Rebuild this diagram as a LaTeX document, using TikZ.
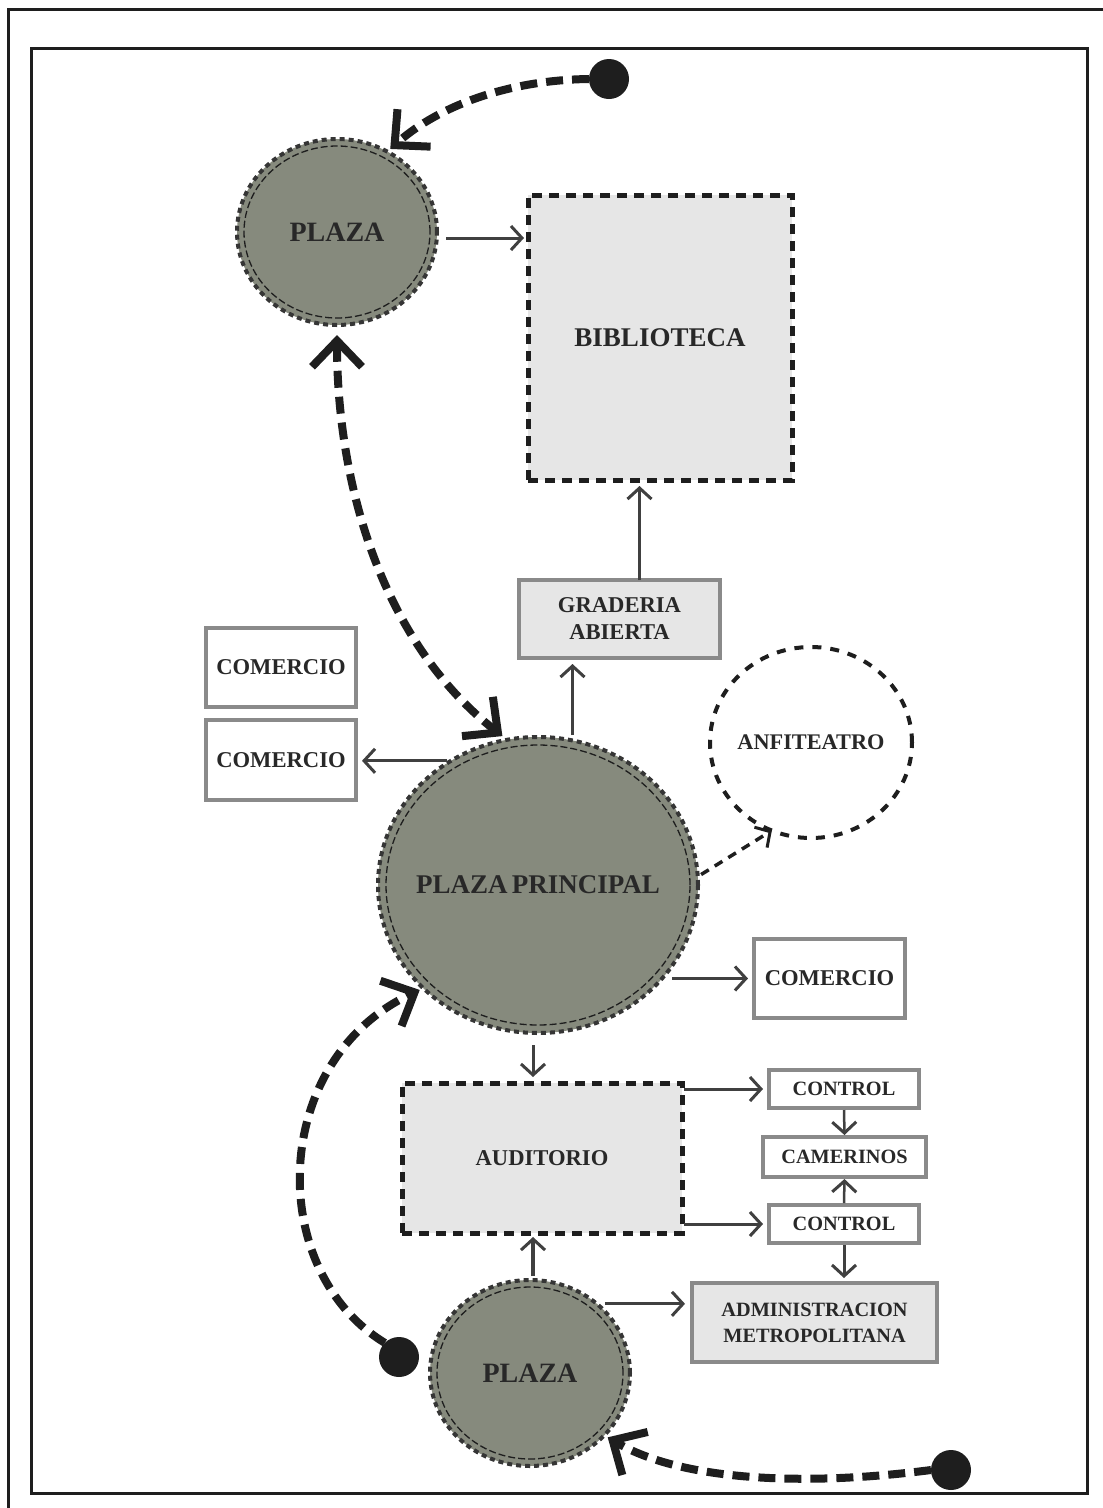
\documentclass[tikz,border=0pt]{standalone}
\usepackage{fontspec}
\setmainfont{Liberation Serif}
\usetikzlibrary{arrows.meta,shapes.geometric}
\definecolor{plazafill}{RGB}{134,138,125}
\definecolor{boxfill}{RGB}{230,230,230}
\definecolor{boxline}{RGB}{138,138,138}
\definecolor{ink}{RGB}{30,30,30}
\definecolor{txt}{RGB}{40,40,40}
\definecolor{arr}{RGB}{64,64,64}
\tikzset{
  bigtip/.tip={Straight Barb[length=26pt,width=50pt,line width=8pt]},
  thintip/.tip={Straight Barb[length=11pt,width=24pt,line width=3pt]},
  plazanode/.style={ellipse,fill=plazafill,draw=ink!90,line width=4pt,dash pattern=on 5pt off 4pt,inner sep=0pt,outer sep=0pt,text=txt},
  innerring/.style={draw=ink,line width=1.3pt,dash pattern=on 7pt off 3pt},
  graybox/.style={rectangle,draw=boxline,line width=3.5pt,fill=boxfill,inner sep=0pt,outer sep=0pt,text=txt,align=center},
  whitebox/.style={graybox,fill=white},
  dashbox/.style={rectangle,draw=ink,line width=5pt,dash pattern=on 10pt off 7pt,fill=boxfill,inner sep=0pt,outer sep=0pt,text=txt,align=center},
  dotnode/.style={circle,fill=ink,minimum size=40pt,inner sep=0pt,outer sep=0pt},
  thinarrow/.style={draw=arr,line width=3pt,-thintip},
  dashthin/.style={draw=ink,line width=3.5pt,dash pattern=on 9pt off 7pt,-thintip},
  bigarrow/.style={draw=ink,line width=8pt,dash pattern=on 17pt off 9pt},
  fA/.style={font=\fontsize{28}{30}\bfseries\selectfont},
  fB/.style={font=\fontsize{22.6}{27}\bfseries\selectfont},
  fC/.style={font=\fontsize{20.3}{26}\bfseries\selectfont},
}
\begin{document}
\begin{tikzpicture}[x=1pt,y=-1pt]
\useasboundingbox (0,0) rectangle (1103,1508);
\fill[white] (0,0) rectangle (1103,1508);
% frames
\draw[line width=3pt,ink] (8,1508) -- (8,9) -- (1103,9);
\draw[line width=3pt,ink] (31,48) rectangle (1087,1493);

% nodes
\node[plazanode,fA,minimum width=200pt,minimum height=186pt] (p1) at (337,232) {\makebox[0pt]{PLAZA}};
\draw[innerring] (p1.center) ellipse [x radius=93pt, y radius=86pt];
\node[dashbox,font=\fontsize{27}{30}\bfseries\selectfont,minimum width=264pt,minimum height=285pt] (bib) at (660,337.5) {BIBLIOTECA};
\node[graybox,fB,minimum width=201pt,minimum height=78pt] (grad) at (619.5,619) {GRADERIA\\ABIERTA};
\node[whitebox,fB,minimum width=150pt,minimum height=79pt] (com1) at (281,667.5) {COMERCIO};
\node[whitebox,fB,minimum width=150pt,minimum height=80pt] (com2) at (281,760) {COMERCIO};
\node[plazanode,font=\fontsize{27}{30}\bfseries\selectfont,minimum width=320pt,minimum height=296pt] (pp) at (538,885) {\makebox[0pt]{PLAZA\hspace{-2.5pt} PRINCIPAL}};
\draw[innerring] (pp.center) ellipse [x radius=152pt, y radius=140pt];
\node[ellipse,draw=ink,line width=4pt,dash pattern=on 9pt off 9pt,fill=white,minimum width=202pt,minimum height=191pt,inner sep=0pt,outer sep=0pt,text=txt,font=\fontsize{22.3}{25}\bfseries\selectfont] (anf) at (811,742.5) {\makebox[0pt]{ANFITEATRO}};
\node[whitebox,fB,minimum width=151pt,minimum height=79pt] (com3) at (829.5,978.5) {COMERCIO};
\node[dashbox,fB,minimum width=280pt,minimum height=150pt] (aud) at (542,1158) {AUDITORIO};
\node[whitebox,fC,minimum width=150pt,minimum height=38pt] (c1) at (844,1089) {CONTROL};
\node[whitebox,fC,minimum width=163pt,minimum height=40pt] (cam) at (844.5,1157) {CAMERINOS};
\node[whitebox,fC,minimum width=150pt,minimum height=38pt] (c2) at (844,1224) {CONTROL};
\node[graybox,fC,minimum width=245pt,minimum height=79pt] (adm) at (814.5,1322.5) {ADMINISTRACION\\METROPOLITANA};
\node[plazanode,fA,minimum width=200pt,minimum height=186pt] (p3) at (530,1373) {\makebox[0pt]{PLAZA}};
\draw[innerring] (p3.center) ellipse [x radius=93pt, y radius=86pt];

\node[dotnode] (d1) at (609,79) {};
\node[dotnode] (d2) at (399,1357) {};
\node[dotnode] (d3) at (951,1470) {};

% thin arrows
\draw[thinarrow,shorten <=9pt,shorten >=4pt] (p1.east |- 0,238) coordinate (a1) -- (a1 -| bib.west);
\draw[thinarrow,shorten >=6pt] ([xshift=20pt]grad.north) -- ([xshift=20pt]grad.north |- bib.south);
\draw[thinarrow,shorten >=6pt,shorten <=2pt] ([xshift=-47pt]grad.south |- pp.north) -- ([xshift=-47pt]grad.south);
\draw[thinarrow,shorten <=4pt,shorten >=6pt] (pp.125) -- (pp.125 -| com2.east);
\draw[thinarrow,shorten <=10pt,shorten >=6pt] (pp.-37) -- (pp.-37 -| com3.west);
\draw[dashthin,shorten <=4pt] (pp.3) -- (anf.246);
\draw[thinarrow,shorten <=12pt,shorten >=6pt] ([xshift=-5pt]pp.south) -- ([xshift=-5pt]pp.south |- aud.north);
\draw[thinarrow,line width=4pt,shorten <=4pt,shorten >=4pt] ([xshift=3pt]p3.north) -- ([xshift=3pt]p3.north |- aud.south);
\draw[thinarrow,shorten <=2pt,shorten >=6pt] (aud.east |- c1.center) -- (c1.west);
\draw[thinarrow,shorten <=2pt,shorten >=6pt] (aud.east |- c2.center) -- (c2.west);
\draw[thinarrow,line width=2.5pt,shorten <=2pt,shorten >=2pt] (c1.south) -- (cam.north);
\draw[thinarrow,line width=2.5pt,shorten <=2pt,shorten >=2pt] (c2.north) -- (cam.south);
\draw[thinarrow,shorten <=2pt,shorten >=5pt] (c2.south) -- (c2.south |- adm.north);
\draw[thinarrow,shorten <=8pt,shorten >=7pt] (p3.46) -- (p3.46 -| adm.west);

% big dashed arrows
\draw[bigarrow,-bigtip,shorten >=4pt] (d1.west) .. controls (510,80) and (440,105) .. (p1.58);
\draw[bigarrow,bigtip-bigtip,shorten <=10pt,shorten >=6pt] (p1.south) .. controls (337,480) and (380,640) .. (pp.102);
\draw[bigarrow,-bigtip,shorten >=4pt] (d2.north west) .. controls (265,1270) and (270,1060) .. (pp.222);
\draw[bigarrow,-bigtip,shorten >=4pt] (d3.west) .. controls (800,1487) and (680,1480) .. (p3.-40);
\end{tikzpicture}
\end{document}
